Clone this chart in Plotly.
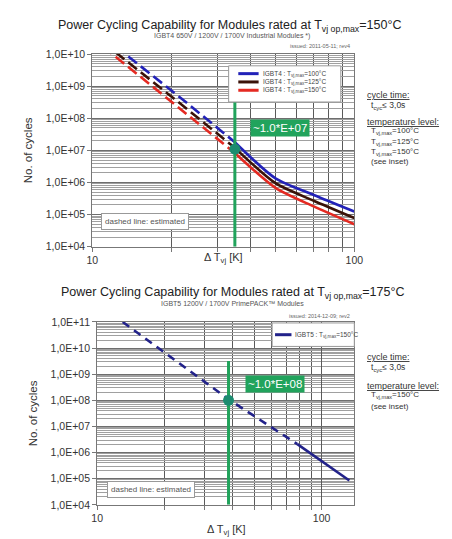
import plotly.graph_objects as go

# ---------------- data ----------------
# Upper chart: IGBT4, Tvj op,max = 150 °C
top_dT = [11, 14, 22, 35, 50, 70, 100]
top_N_100 = [3.5e10, 7.4e9, 4.0e8, 1.8e7, 1.35e6, 4.1e5, 1.25e5]
top_N_125 = [2.3e10, 4.9e9, 2.6e8, 1.2e7, 9.5e5, 2.7e5, 7.8e4]
top_N_150 = [1.7e10, 3.5e9, 1.8e8, 8.3e6, 6.8e5, 1.8e5, 5.0e4]
top_series_names = ["IGBT4 : T<sub>vj,max</sub>=100°C",
                    "IGBT4 : T<sub>vj,max</sub>=125°C",
                    "IGBT4 : T<sub>vj,max</sub>=150°C"]
top_est_limit = 35          # below this ΔT the curve is estimated (dashed)
top_mark_dT = 35
top_mark_N = 1.1e7
top_vline_N = [3.7e8, 1.0e4]
top_mark_label = "~1.0*E+07"

# Lower chart: IGBT5, Tvj op,max = 175 °C
bot_dT = [13, 38.5, 78, 133]
bot_N = [1.0e11, 1.1e8, 2.1e6, 8.5e4]
bot_series_names = ["IGBT5 : T<sub>vj,max</sub>=150°C"]
bot_est_limit = 78
bot_mark_dT = 38.5
bot_mark_N = 1.0e8
bot_vline_N = [3.2e9, 1.0e4]
bot_mark_label = "~1.0*E+08"

# tick labels
top_ytick_vals = [1e4, 1e5, 1e6, 1e7, 1e8, 1e9, 1e10]
top_ytick_text = ["1,0E+04", "1,0E+05", "1,0E+06", "1,0E+07", "1,0E+08", "1,0E+09", "1,0E+10"]
bot_ytick_vals = [1e4, 1e5, 1e6, 1e7, 1e8, 1e9, 1e10, 1e11]
bot_ytick_text = ["1,0E+04", "1,0E+05", "1,0E+06", "1,0E+07", "1,0E+08", "1,0E+09", "1,0E+10", "1,0E+11"]
xtick_vals = [10, 100]
xtick_text = ["10", "100"]
x_minor_vals = [20, 30, 40, 50, 60, 70, 80, 90]

# ---------------- styling ----------------
W, H = 452, 539
FONT = "Liberation Sans, Arial, sans-serif"
TOP_COLORS = ["#2222b8", "#3a1208", "#e42a22"]
BOT_COLOR = "#22228a"
GREEN = "#21a35c"
DOT = "#1c8c70"


def px(x):
    return x / W


def py(y):
    return 1 - y / H


def minor_decades(lo, hi):
    return [m * 10 ** e for e in range(lo, hi) for m in range(2, 10)]


fig = go.Figure()


def add_series(dT, N, limit, color, xa, ya, width, dash):
    est_x = [d for d in dT if d <= limit]
    est_y = [n for d, n in zip(dT, N) if d <= limit]
    sol_x = [d for d in dT if d >= limit]
    sol_y = [n for d, n in zip(dT, N) if d >= limit]
    fig.add_trace(go.Scatter(x=est_x, y=est_y, mode="lines", xaxis=xa, yaxis=ya,
                             line=dict(color=color, width=width, dash=dash),
                             showlegend=False, hoverinfo="skip"))
    fig.add_trace(go.Scatter(x=sol_x, y=sol_y, mode="lines", xaxis=xa, yaxis=ya,
                             line=dict(color=color, width=width, shape="spline", smoothing=0.7),
                             showlegend=False, hoverinfo="skip"))


# top chart curves
for N, c in zip([top_N_150, top_N_125, top_N_100], [TOP_COLORS[2], TOP_COLORS[1], TOP_COLORS[0]]):
    add_series(top_dT, N, top_est_limit, c, "x", "y", 2.6, "11px,5px")

fig.add_trace(go.Scatter(x=[top_mark_dT, top_mark_dT], y=top_vline_N, mode="lines",
                         xaxis="x", yaxis="y", line=dict(color=GREEN, width=3),
                         showlegend=False, hoverinfo="skip"))
fig.add_trace(go.Scatter(x=[top_mark_dT], y=[top_mark_N], mode="markers",
                         xaxis="x", yaxis="y", marker=dict(color=DOT, size=11),
                         showlegend=False, hoverinfo="skip"))

# bottom chart curve
add_series(bot_dT, bot_N, bot_est_limit, BOT_COLOR, "x2", "y2", 2.6, "8px,6px")
fig.add_trace(go.Scatter(x=[bot_mark_dT, bot_mark_dT], y=bot_vline_N, mode="lines",
                         xaxis="x2", yaxis="y2", line=dict(color=GREEN, width=3),
                         showlegend=False, hoverinfo="skip"))
fig.add_trace(go.Scatter(x=[bot_mark_dT], y=[bot_mark_N], mode="markers",
                         xaxis="x2", yaxis="y2", marker=dict(color=DOT, size=11),
                         showlegend=False, hoverinfo="skip"))

# ---------------- axes ----------------
def xaxis(domain, rng, anchor):
    return dict(type="log", domain=domain, range=rng, anchor=anchor,
                tickmode="array", tickvals=xtick_vals, ticktext=xtick_text,
                showgrid=True, gridcolor="#5a5a5a", gridwidth=1,
                minor=dict(tickmode="array", tickvals=x_minor_vals, showgrid=True,
                           gridcolor="#5a5a5a", gridwidth=1, ticks="outside",
                           ticklen=4, tickcolor="#777"),
                ticks="outside", ticklen=4, tickcolor="#777",
                showline=True, linecolor="#777", linewidth=1, mirror=True,
                tickfont=dict(family=FONT, size=10.5, color="#333"),
                zeroline=False)


def yaxis(domain, rng, anchor, vals, text, lo, hi):
    return dict(type="log", domain=domain, range=rng, anchor=anchor,
                tickmode="array", tickvals=vals, ticktext=text,
                showgrid=True, gridcolor="#6e6e6e", gridwidth=1,
                minor=dict(tickmode="array", tickvals=minor_decades(lo, hi), showgrid=True,
                           gridcolor="#a0a0a0", gridwidth=1),
                ticks="outside", ticklen=4, tickcolor="#777",
                showline=True, linecolor="#777", linewidth=1, mirror=True,
                tickfont=dict(family=FONT, size=10.5, color="#333"),
                title=dict(text="No. of cycles", font=dict(family=FONT, size=11.5, color="#333"),
                           standoff=10),
                zeroline=False)


layout = dict(
    width=W, height=H,
    margin=dict(l=0, r=0, t=0, b=0),
    paper_bgcolor="white", plot_bgcolor="white",
    showlegend=False,
    font=dict(family=FONT, color="#333"),
    xaxis=xaxis([px(81), px(352)], [1, 2], "y"),
    yaxis=yaxis([py(238), py(41)], [4, 10], "x", top_ytick_vals, top_ytick_text, 4, 10),
    xaxis2=xaxis([px(86), px(352)], [1, 2.146], "y2"),
    yaxis2=yaxis([py(502), py(315)], [4, 11], "x2", bot_ytick_vals, bot_ytick_text, 4, 11),
)
fig.update_layout(**layout)

# ---------------- annotations ----------------
ann = []


def text(x, y, s, size, color="#333", xanchor="center", **kw):
    ann.append(dict(x=px(x), y=py(y), xref="paper", yref="paper", text=s, showarrow=False,
                    xanchor=xanchor, yanchor="middle",
                    font=dict(family=FONT, size=size, color=color), **kw))


# top chart texts
text(223, 12, "Power Cycling Capability for Modules rated at T<sub>vj op,max</sub>=150°C", 12.5, "#222")
text(225, 23, "IGBT4 650V / 1200V / 1700V Industrial Modules *)", 7, "#555")
text(350, 33, "issued: 2011-05-11; rev4", 5.5, "#666", xanchor="right")
text(217, 250, "Δ T<sub>vj</sub> [K]", 11, "#333")
text(136, 212.5, "dashed line: estimated", 8, "#555",
     bgcolor="white", bordercolor="#999", borderwidth=1, borderpad=3)
text(275, 116.5, top_mark_label, 11.5, "white", bgcolor=GREEN, borderpad=2)
text(363, 83, "<u>cycle time:</u>", 9, "#333", xanchor="left")
text(367, 94, "t<sub>cyc</sub>≤ 3,0s", 8.5, "#333", xanchor="left")
text(363, 110, "<u>temperature level:</u>", 9, "#333", xanchor="left")
text(367, 120, "T<sub>vj,max</sub>=100°C", 8, "#333", xanchor="left")
text(367, 130.5, "T<sub>vj,max</sub>=125°C", 8, "#333", xanchor="left")
text(367, 141, "T<sub>vj,max</sub>=150°C", 8, "#333", xanchor="left")
text(367, 151, "(see inset)", 8, "#333", xanchor="left")

# bottom chart texts
text(226, 285, "Power Cycling Capability for Modules rated at T<sub>vj op,max</sub>=175°C", 12.5, "#222")
text(226, 296, "IGBT5 1200V / 1700V PrimePACK™ Modules", 7, "#555")
text(350, 309, "issued: 2014-12-09; rev2", 5.5, "#666", xanchor="right")
text(220, 528, "Δ T<sub>vj</sub> [K]", 11, "#333")
text(141.5, 486, "dashed line: estimated", 8, "#555",
     bgcolor="white", bordercolor="#999", borderwidth=1, borderpad=3)
text(270, 378, bot_mark_label, 11.5, "white", bgcolor=GREEN, borderpad=2)
text(363, 351, "<u>cycle time:</u>", 9, "#333", xanchor="left")
text(367, 362, "t<sub>cyc</sub>≤ 3,0s", 8.5, "#333", xanchor="left")
text(363, 380, "<u>temperature level:</u>", 9, "#333", xanchor="left")
text(367, 390, "T<sub>vj,max</sub>=150°C", 8, "#333", xanchor="left")
text(367, 401, "(see inset)", 8, "#333", xanchor="left")

# legend (inset) boxes
shapes = []
shapes.append(dict(type="rect", xref="paper", yref="paper", x0=px(222), x1=px(338),
                   y0=py(90), y1=py(53), fillcolor="white", line=dict(color="#999", width=1)))
for i, (name, c) in enumerate(zip(top_series_names, TOP_COLORS)):
    yy = 61 + i * 8.5
    shapes.append(dict(type="line", xref="paper", yref="paper", x0=px(232), x1=px(253),
                       y0=py(yy), y1=py(yy), line=dict(color=c, width=3)))
    text(255, yy, name, 6.5, "#444", xanchor="left")

shapes.append(dict(type="rect", xref="paper", yref="paper", x0=px(267), x1=px(352),
                   y0=py(340), y1=py(316), fillcolor="white", line=dict(color="#999", width=1)))
shapes.append(dict(type="line", xref="paper", yref="paper", x0=px(270), x1=px(287),
                   y0=py(328), y1=py(328), line=dict(color=BOT_COLOR, width=3)))
text(289, 328, bot_series_names[0], 6.5, "#444", xanchor="left")

fig.update_layout(annotations=ann, shapes=shapes)

fig.write_html("out.html")
